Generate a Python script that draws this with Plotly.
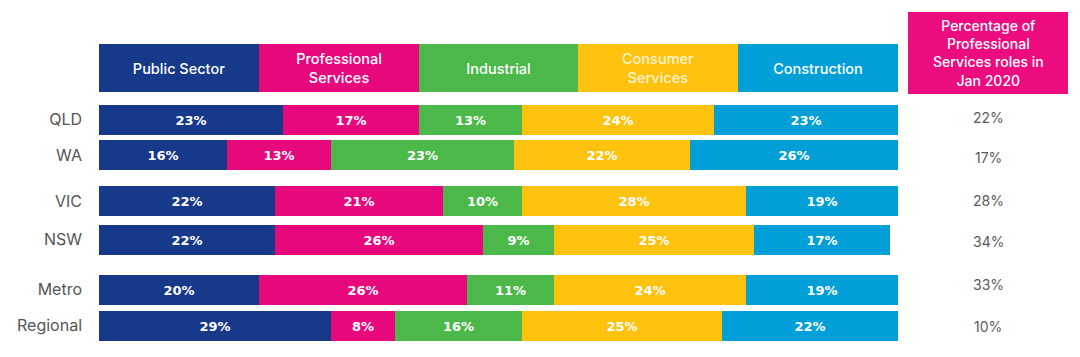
import plotly.graph_objects as go

regions = ["QLD", "WA", "VIC", "NSW", "Metro", "Regional"]
sectors = ["Public Sector", "Professional Services", "Industrial", "Consumer Services", "Construction"]
sector_headers = ["Public Sector", "Professional<br>Services", "Industrial", "Consumer<br>Services", "Construction"]
public_sector = [23, 16, 22, 22, 20, 29]
professional_services = [17, 13, 21, 26, 26, 8]
industrial = [13, 23, 10, 9, 11, 16]
consumer_services = [24, 22, 28, 25, 24, 25]
construction = [23, 26, 19, 17, 19, 22]
prof_share_jan2020 = ["22%", "17%", "28%", "34%", "33%", "10%"]
side_title = "Percentage of<br>Professional<br>Services roles in<br>Jan 2020"

series = [public_sector, professional_services, industrial, consumer_services, construction]
colors = ["#17398A", "#E8087E", "#4DB84A", "#FFC20E", "#009FD8"]

# layout positions, expressed in page pixels (page body has an 8px margin)
OFF = 8
PLOT_L, PLOT_R = 99, 898
FIG_W, FIG_H = 1080 - OFF, 357 - OFF
row_y = [119.5, 155, 201, 239.5, 289.5, 325.5]
value_y = [117, 157, 200, 241, 284, 326]
header_y = 68
row_h = 30
header_h = 48
FONT = "Inter, Open Sans, sans-serif"

fig = go.Figure()

# header boxes
for i, (name, col) in enumerate(zip(sector_headers, colors)):
    fig.add_trace(go.Bar(
        x=[20], base=[i * 20], y=[header_y], width=[header_h], orientation="h",
        marker=dict(color=col, line=dict(width=0)),
        text=[name], textposition="inside", insidetextanchor="middle",
        textfont=dict(color="#FFF3D0" if i == 3 else "white", size=14.5,
                      family=FONT, weight=500),
        showlegend=False, hoverinfo="skip",
    ))

# stacked bars
for name, vals, col in zip(sectors, series, colors):
    fig.add_trace(go.Bar(
        name=name, x=vals, y=row_y, width=[row_h] * len(row_y), orientation="h",
        marker=dict(color=col, line=dict(width=0)),
        text=[f"<b>{v}%</b>" for v in vals], textposition="inside",
        insidetextanchor="middle", constraintext="none",
        textfont=dict(color="white", size=13, family="DejaVu Sans, sans-serif"),
        showlegend=False,
    ))

x_to_paper = lambda px: (px - PLOT_L) / float(PLOT_R - PLOT_L)

fig.add_shape(type="rect", xref="paper", yref="y",
              x0=x_to_paper(908), x1=x_to_paper(1068), y0=12, y1=94,
              fillcolor="#EC0C80", line=dict(width=0), layer="below")
fig.add_annotation(xref="paper", yref="y", x=x_to_paper(988), y=53,
                   xanchor="center", yanchor="middle",
                   text=side_title, showarrow=False,
                   font=dict(color="white", size=14, family=FONT, weight=500), align="center")
for yy, t in zip(value_y, prof_share_jan2020):
    fig.add_annotation(xref="paper", yref="y", x=x_to_paper(988), y=yy,
                       xanchor="center", yanchor="middle",
                       text=t, showarrow=False,
                       font=dict(color="#5A5A5A", size=14, family=FONT))

fig.update_layout(
    barmode="stack", width=FIG_W, height=FIG_H,
    margin=dict(l=PLOT_L - OFF, r=FIG_W - (PLOT_R - OFF), t=0, b=0, autoexpand=False),
    paper_bgcolor="white", plot_bgcolor="white",
    bargap=0,
    xaxis=dict(range=[0, 100], visible=False, fixedrange=True),
    yaxis=dict(range=[357, OFF], tickvals=row_y, ticktext=regions,
               showgrid=False, zeroline=False, ticks="", ticklabelstandoff=16,
               tickfont=dict(color="#555555", size=16, family=FONT)),
    font=dict(family=FONT),
)

fig.write_html("out.html")
